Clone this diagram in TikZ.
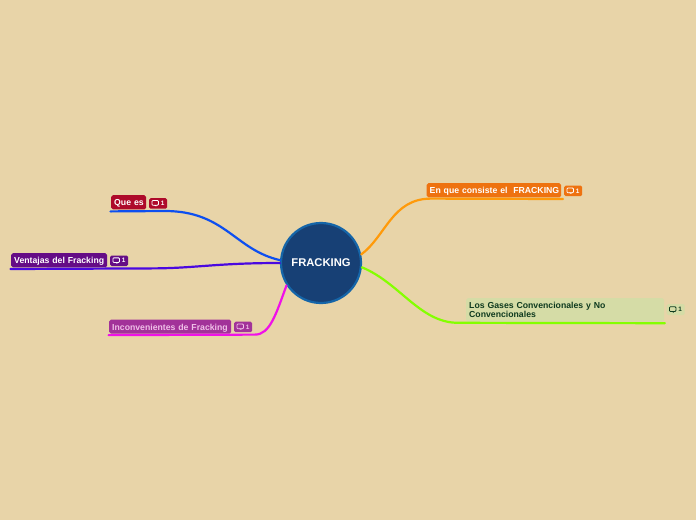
\documentclass[tikz,border=0pt]{standalone}
\usepackage{fontspec}
\setmainfont{Liberation Sans}
\hfuzz=50pt
\definecolor{bg}{HTML}{E8D4A8}
\definecolor{rootfill}{HTML}{174075}
\definecolor{rootline}{HTML}{1565A8}
\definecolor{cred}{HTML}{AE0A2A}
\definecolor{cpurple}{HTML}{650C86}
\definecolor{cmag}{HTML}{A23299}
\definecolor{corange}{HTML}{EE7210}
\definecolor{cgreen}{HTML}{D5DCA6}
\definecolor{lblue}{HTML}{0D4FF0}
\definecolor{lviolet}{HTML}{4A08E0}
\definecolor{lmag}{HTML}{F010E8}
\definecolor{lorange}{HTML}{FF9A0A}
\definecolor{lgreen}{HTML}{84FF00}
\definecolor{tgreen}{HTML}{0E3A1E}
\definecolor{tmag}{HTML}{F0C0E8}
\tikzset{
  x=1pt,y=-1pt,
  topic/.style={rounded corners=1.8pt,inner sep=0pt,anchor=north west,font=\bfseries\fontsize{8.7}{9.7}\selectfont,align=left},
  oneline/.style={text height=7.8pt,text depth=1pt},
  twoline/.style={},
  badge/.style={rounded corners=1.5pt,inner sep=0pt,anchor=north west,minimum width=18pt},
  branch/.style={line width=2.2pt,line cap=round},
  pics/cmt/.style={code={
    \draw[#1,line width=.8pt,rounded corners=.8pt] (-3.2,-2.9) rectangle (3.2,1.7);
    \fill[#1] (-1.4,1.7) -- (1.4,1.7) -- (1,3) -- cycle;
  }},
  cnt/.style={inner sep=0pt,font=\bfseries\fontsize{6.4}{7}\selectfont}
}
\newcommand{\topicbox}[9]{% name,x,y,w,h,fill,textcolor,style,text
  \node[topic,#8,fill=#6,text=#7,minimum width=#4pt,minimum height=#5pt,text width=#4pt-6pt,inner xsep=3pt] (#1) at (#2,#3) {#9};
}
\newcommand{\badgebox}[6]{% name,x,y,fill,fg,height
  \node[badge,fill=#4,minimum height=#6pt] (#1) at (#2,#3) {};
  \pic at ([xshift=-3pt]#1.center) {cmt=#5};
  \node[cnt,text=#5] (#1n) at ([xshift=4.5pt]#1.center) {1};
}
\begin{document}
\begin{tikzpicture}
\useasboundingbox (0,0) rectangle (696,520);
\fill[bg] (0,0) rectangle (696,520);

\topicbox{que}{111}{195}{35}{14.2}{cred}{white}{oneline}{\mbox{Que es}}
\badgebox{queb}{149}{198}{cred}{white}{10.5}
\topicbox{ven}{11}{253}{96}{14.2}{cpurple}{white}{oneline}{\mbox{Ventajas del Fracking}}
\badgebox{venb}{110}{255.3}{cpurple}{white}{10.5}
\topicbox{inc}{109}{319.3}{122}{14.2}{cmag}{tmag}{oneline}{\mbox{Inconvenientes de Fracking}}
\badgebox{incb}{234}{321.5}{cmag}{tmag}{10.5}
\topicbox{enq}{426.5}{183}{134.5}{14.2}{corange}{white}{oneline}{\mbox{En que consiste el\ \ FRACKING}}
\badgebox{enqb}{564}{185.5}{corange}{white}{10.5}
\topicbox{gas}{466}{298}{198}{23.5}{cgreen}{tgreen}{twoline}{\mbox{Los Gases Convencionales y No}\\\mbox{Convencionales}}
\badgebox{gasb}{666.5}{304}{cgreen}{tgreen}{11}

\node[circle,minimum size=80pt,inner sep=0pt,fill=rootfill,draw=rootline,line width=2.2pt,text=white,font=\bfseries\fontsize{11.2}{12}\selectfont] (root) at (321,263) {FRACKING};

\coordinate (queL) at ([shift={(-.5,1.8)}]que.south west);
\coordinate (venL) at ([shift={(-.5,1.4)}]ven.south west);
\coordinate (incL) at ([shift={(-.5,1.2)}]inc.south west);
\coordinate (enqR) at ([shift={(1.5,1.4)}]enq.south east);
\coordinate (gasR) at ([shift={(.5,1.3)}]gas.south east);
\coordinate (rootQ) at (root.176);
\coordinate (rootV) at (root.180);
\coordinate (rootI) at (root.213);
\coordinate (rootE) at (root.12);
\coordinate (rootG) at (root.-6);

\draw[branch,lblue] (queL) -- (165,211) .. controls (225,211) and (235,250) .. (rootQ);
\draw[branch,lviolet] (venL) -- (150,268.4) .. controls (195,268.4) and (215,263) .. (rootV);
\draw[branch,lmag] (incL) -- (255,334.6) .. controls (270,334.6) and (276,314) .. (rootI);
\draw[branch,lorange] (enqR) -- (431,198.6) .. controls (392,198.6) and (386,236) .. (rootE);
\draw[branch,lgreen] (gasR) -- (458,322.8) .. controls (420,322.8) and (400,283) .. (rootG);
\end{tikzpicture}
\end{document}
